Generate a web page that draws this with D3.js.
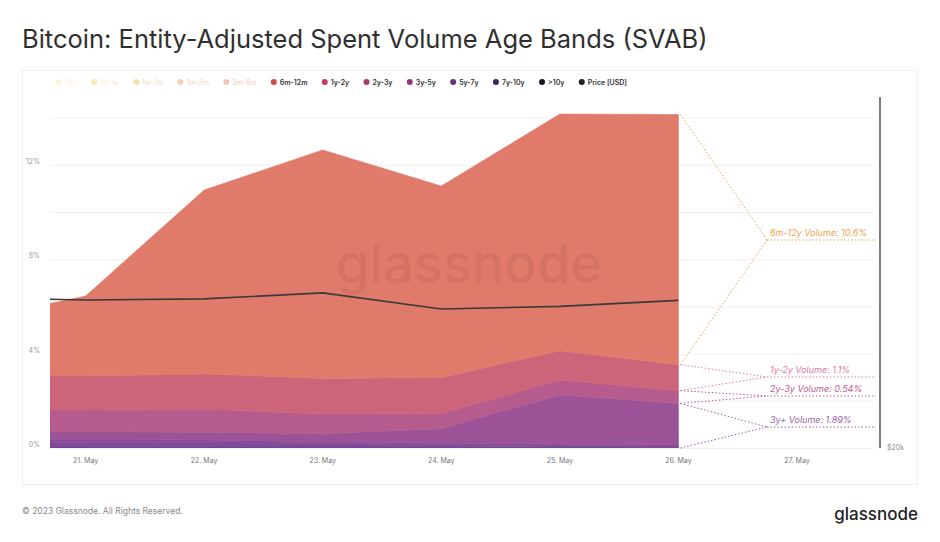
<!DOCTYPE html>
<html>
<head>
<meta charset="utf-8">
<script src="https://cdn.jsdelivr.net/npm/d3@7"></script>
<style>
  body { margin: 0; background: #fff; }
  svg { display: block; font-family: Inter, "Noto Sans", sans-serif; }
</style>
</head>
<body>
<div id="chart"></div>
<script>
var width = 940
var height = 542

// data (% of spent volume). 20 May sits left of the visible window
var dates = ['2023-05-20', '2023-05-21', '2023-05-22', '2023-05-23', '2023-05-24', '2023-05-25', '2023-05-26']
var band_6m_12m = [2.33, 3.39, 7.79, 9.68, 8.11, 10.03, 10.60]
var band_1y_2y = [1.44, 1.44, 1.50, 1.51, 1.53, 1.24, 1.10]
var band_2y_3y = [0.92, 0.92, 0.97, 0.84, 0.64, 0.63, 0.54]
var band_3y_5y = [0.32, 0.32, 0.33, 0.33, 0.61, 2.08, 1.76]
var band_5y_7y = [0.15, 0.15, 0.12, 0.09, 0.07, 0.07, 0.05]
var band_7y_10y = [0.12, 0.12, 0.10, 0.08, 0.08, 0.06, 0.05]
var band_10y = [0.10, 0.10, 0.12, 0.10, 0.06, 0.04, 0.03]
var price = [27000, 26900, 26950, 27230, 26480, 26600, 26880]

var legend_keys = ['24h', '1d-1w', '1w-1m', '1m-3m', '3m-6m', '6m-12m', '1y-2y', '2y-3y', '3y-5y', '5y-7y', '7y-10y', '>10y', 'Price [USD]']
var legend_colors = ['#fbe3a0', '#f3c84a', '#f2ab3a', '#ef873c', '#ea694c', '#d54848', '#bf3d5d', '#a63b6d', '#8b3b82', '#693182', '#3f2262', '#1d1522', '#222']
var legend_hidden = ['24h', '1d-1w', '1w-1m', '1m-3m', '3m-6m']

var y_ticks = [0, 4, 8, 12]
var grid_ticks = [0, 2, 4, 6, 8, 10, 12, 14]
var x_ticks = ['2023-05-21', '2023-05-22', '2023-05-23', '2023-05-24', '2023-05-25', '2023-05-26', '2023-05-27']

var annotations = [
  { label: '6m-12y Volume: 10.6%', color: '#f2a24a', from: ['6m-12m', '6m-12m'], y: 240 },
  { label: '1y-2y Volume: 1.1%', color: '#e27aa6', from: ['1y-2y', '1y-2y'], y: 377 },
  { label: '2y-3y Volume: 0.54%', color: '#c2579a', from: ['2y-3y', '2y-3y'], y: 396 },
  { label: '3y+ Volume: 1.89%', color: '#9a62a8', from: ['3y-5y', '>10y'], y: 427 }
]

var keys = ['>10y', '7y-10y', '5y-7y', '3y-5y', '2y-3y', '1y-2y', '6m-12m']
var fills = {
  '>10y': '#774696', '7y-10y': '#7f4898', '5y-7y': '#8a4c99', '3y-5y': '#9b5296',
  '2y-3y': '#b65b8e', '1y-2y': '#cc6579', '6m-12m': '#e07a6b'
}
var series_vals = {
  '>10y': band_10y, '7y-10y': band_7y_10y, '5y-7y': band_5y_7y, '3y-5y': band_3y_5y,
  '2y-3y': band_2y_3y, '1y-2y': band_1y_2y, '6m-12m': band_6m_12m
}

var rows = dates.map(function(d, i) {
  var r = { date: new Date(d + 'T00:00:00Z'), price: price[i] }
  keys.forEach(function(k) { r[k] = series_vals[k][i] })
  return r
})

var svg = d3.select('#chart')
  .append('svg')
  .attr('width', width)
  .attr('height', height)

// title
var title = svg.append('text')
  .attr('x', 22)
  .attr('y', 48)
  .attr('fill', '#2f2f2f')
  .attr('font-size', 20)
  .text('Bitcoin: Entity-Adjusted Spent Volume Age Bands (SVAB)')
var tw = title.node().getComputedTextLength()
title.attr('font-size', 20 * 686 / tw)

// panel
svg.append('rect')
  .attr('x', 22.5).attr('y', 70.5)
  .attr('width', 895).attr('height', 414)
  .attr('fill', 'none')
  .attr('stroke', '#efefef')

var plot_left = 50, plot_right = 880, plot_top = 94, plot_bottom = 448

var x_scale = d3.scaleUtc()
  .domain([new Date('2023-05-20T16:48:00Z'), new Date('2023-05-27T16:48:00Z')])
  .range([plot_left, plot_right])

var y_scale = d3.scaleLinear()
  .domain([0, 15])
  .range([plot_bottom, plot_top])

var price_scale = d3.scaleLinear()
  .domain([20000, 36500])
  .range([plot_bottom, plot_top])

// grid
svg.append('g')
  .selectAll('line')
  .data(grid_ticks)
  .join('line')
  .attr('x1', plot_left).attr('x2', plot_right - 6)
  .attr('y1', d => y_scale(d) + 0.5).attr('y2', d => y_scale(d) + 0.5)
  .attr('stroke', '#f1f1f1')

// y labels
svg.append('g')
  .selectAll('text')
  .data(y_ticks)
  .join('text')
  .attr('x', 40)
  .attr('y', d => y_scale(d) - 1)
  .attr('text-anchor', 'end')
  .attr('font-size', 7)
  .attr('fill', '#9a9a9a')
  .text(d => d + '%')

// x labels
svg.append('g')
  .selectAll('text')
  .data(x_ticks)
  .join('text')
  .attr('x', d => x_scale(new Date(d + 'T00:00:00Z')))
  .attr('y', 463)
  .attr('text-anchor', 'middle')
  .attr('font-size', 7)
  .attr('fill', '#777')
  .text(d => d3.utcFormat('%d. %b')(new Date(d + 'T00:00:00Z')))

svg.append('defs').append('clipPath')
  .attr('id', 'plot-clip')
  .append('rect')
  .attr('x', plot_left).attr('y', plot_top - 10)
  .attr('width', plot_right - plot_left).attr('height', plot_bottom - plot_top + 10)

var stack = d3.stack().keys(keys)
var layers = stack(rows)

var area = d3.area()
  .x(d => x_scale(d.data.date))
  .y0(d => y_scale(d[0]))
  .y1(d => y_scale(d[1]))

var plot = svg.append('g').attr('clip-path', 'url(#plot-clip)')

plot.selectAll('path.layer')
  .data(layers)
  .join('path')
  .attr('class', 'layer')
  .attr('fill', d => fills[d.key])
  .attr('stroke', d => fills[d.key])
  .attr('stroke-width', 0.6)
  .attr('d', area)

// watermark
svg.append('text')
  .attr('x', 469)
  .attr('y', 283)
  .attr('text-anchor', 'middle')
  .attr('font-size', 54)
  .attr('font-weight', 500)
  .attr('fill', '#000')
  .attr('fill-opacity', 0.05)
  .text('glassnode')

// price line
var line = d3.line()
  .x(d => x_scale(d.date))
  .y(d => price_scale(d.price))

plot.append('path')
  .datum(rows)
  .attr('fill', 'none')
  .attr('stroke', '#3a3a3a')
  .attr('stroke-width', 1.6)
  .attr('stroke-linejoin', 'round')
  .attr('d', line)

// right price axis
svg.append('line')
  .attr('x1', plot_right).attr('x2', plot_right)
  .attr('y1', plot_top + 3).attr('y2', plot_bottom)
  .attr('stroke', '#7a7a7a')
  .attr('stroke-width', 2)
svg.append('text')
  .attr('x', 887).attr('y', price_scale(20000) + 2)
  .attr('font-size', 7)
  .attr('fill', '#8a8a8a')
  .text('$20k')

// annotations for the last day
var last = rows.length - 1
var x_last = x_scale(rows[last].date) + 2
var apex_x = 767
function band_edges(key) {
  var l = layers.find(s => s.key === key)
  return l[last]
}
annotations.forEach(function(a) {
  var top_edge = band_edges(a.from[0])[1]
  var bot_edge = band_edges(a.from[1])[0]
  var g = svg.append('g')
    .attr('stroke', a.color)
    .attr('stroke-width', 1)
    .attr('stroke-dasharray', '1.5,2')
    .attr('fill', 'none')
  g.append('line')
    .attr('x1', x_last).attr('y1', y_scale(top_edge))
    .attr('x2', apex_x).attr('y2', a.y)
  g.append('line')
    .attr('x1', x_last).attr('y1', y_scale(bot_edge))
    .attr('x2', apex_x).attr('y2', a.y)
  g.append('line')
    .attr('x1', apex_x).attr('y1', a.y)
    .attr('x2', 876).attr('y2', a.y)
  svg.append('text')
    .attr('x', 770)
    .attr('y', a.y - 4)
    .attr('font-size', 9)
    .attr('font-style', 'italic')
    .attr('fill', a.color)
    .text(a.label)
})

// legend
var lg = svg.append('g')
var lx = 58
legend_keys.forEach(function(k, i) {
  var hidden = legend_hidden.indexOf(k) >= 0
  var item = lg.append('g').attr('opacity', hidden ? 0.4 : 1)
  item.append('circle')
    .attr('cx', lx).attr('cy', 82)
    .attr('r', 3)
    .attr('fill', legend_colors[i])
  var t = item.append('text')
    .attr('x', lx + 6)
    .attr('y', 84.5)
    .attr('font-size', 7)
    .attr('font-weight', hidden ? 400 : 600)
    .attr('fill', hidden ? legend_colors[i] : '#333')
    .text(k)
  lx += 6 + t.node().getComputedTextLength() + 17.3
})

// footer
svg.append('text')
  .attr('x', 22).attr('y', 514)
  .attr('font-size', 8.5)
  .attr('fill', '#8a8a8a')
  .text('© 2023 Glassnode. All Rights Reserved.')
svg.append('text')
  .attr('x', 918).attr('y', 520)
  .attr('text-anchor', 'end')
  .attr('font-size', 17)
  .attr('font-weight', 500)
  .attr('fill', '#222')
  .text('glassnode')
</script>
</body>
</html>
